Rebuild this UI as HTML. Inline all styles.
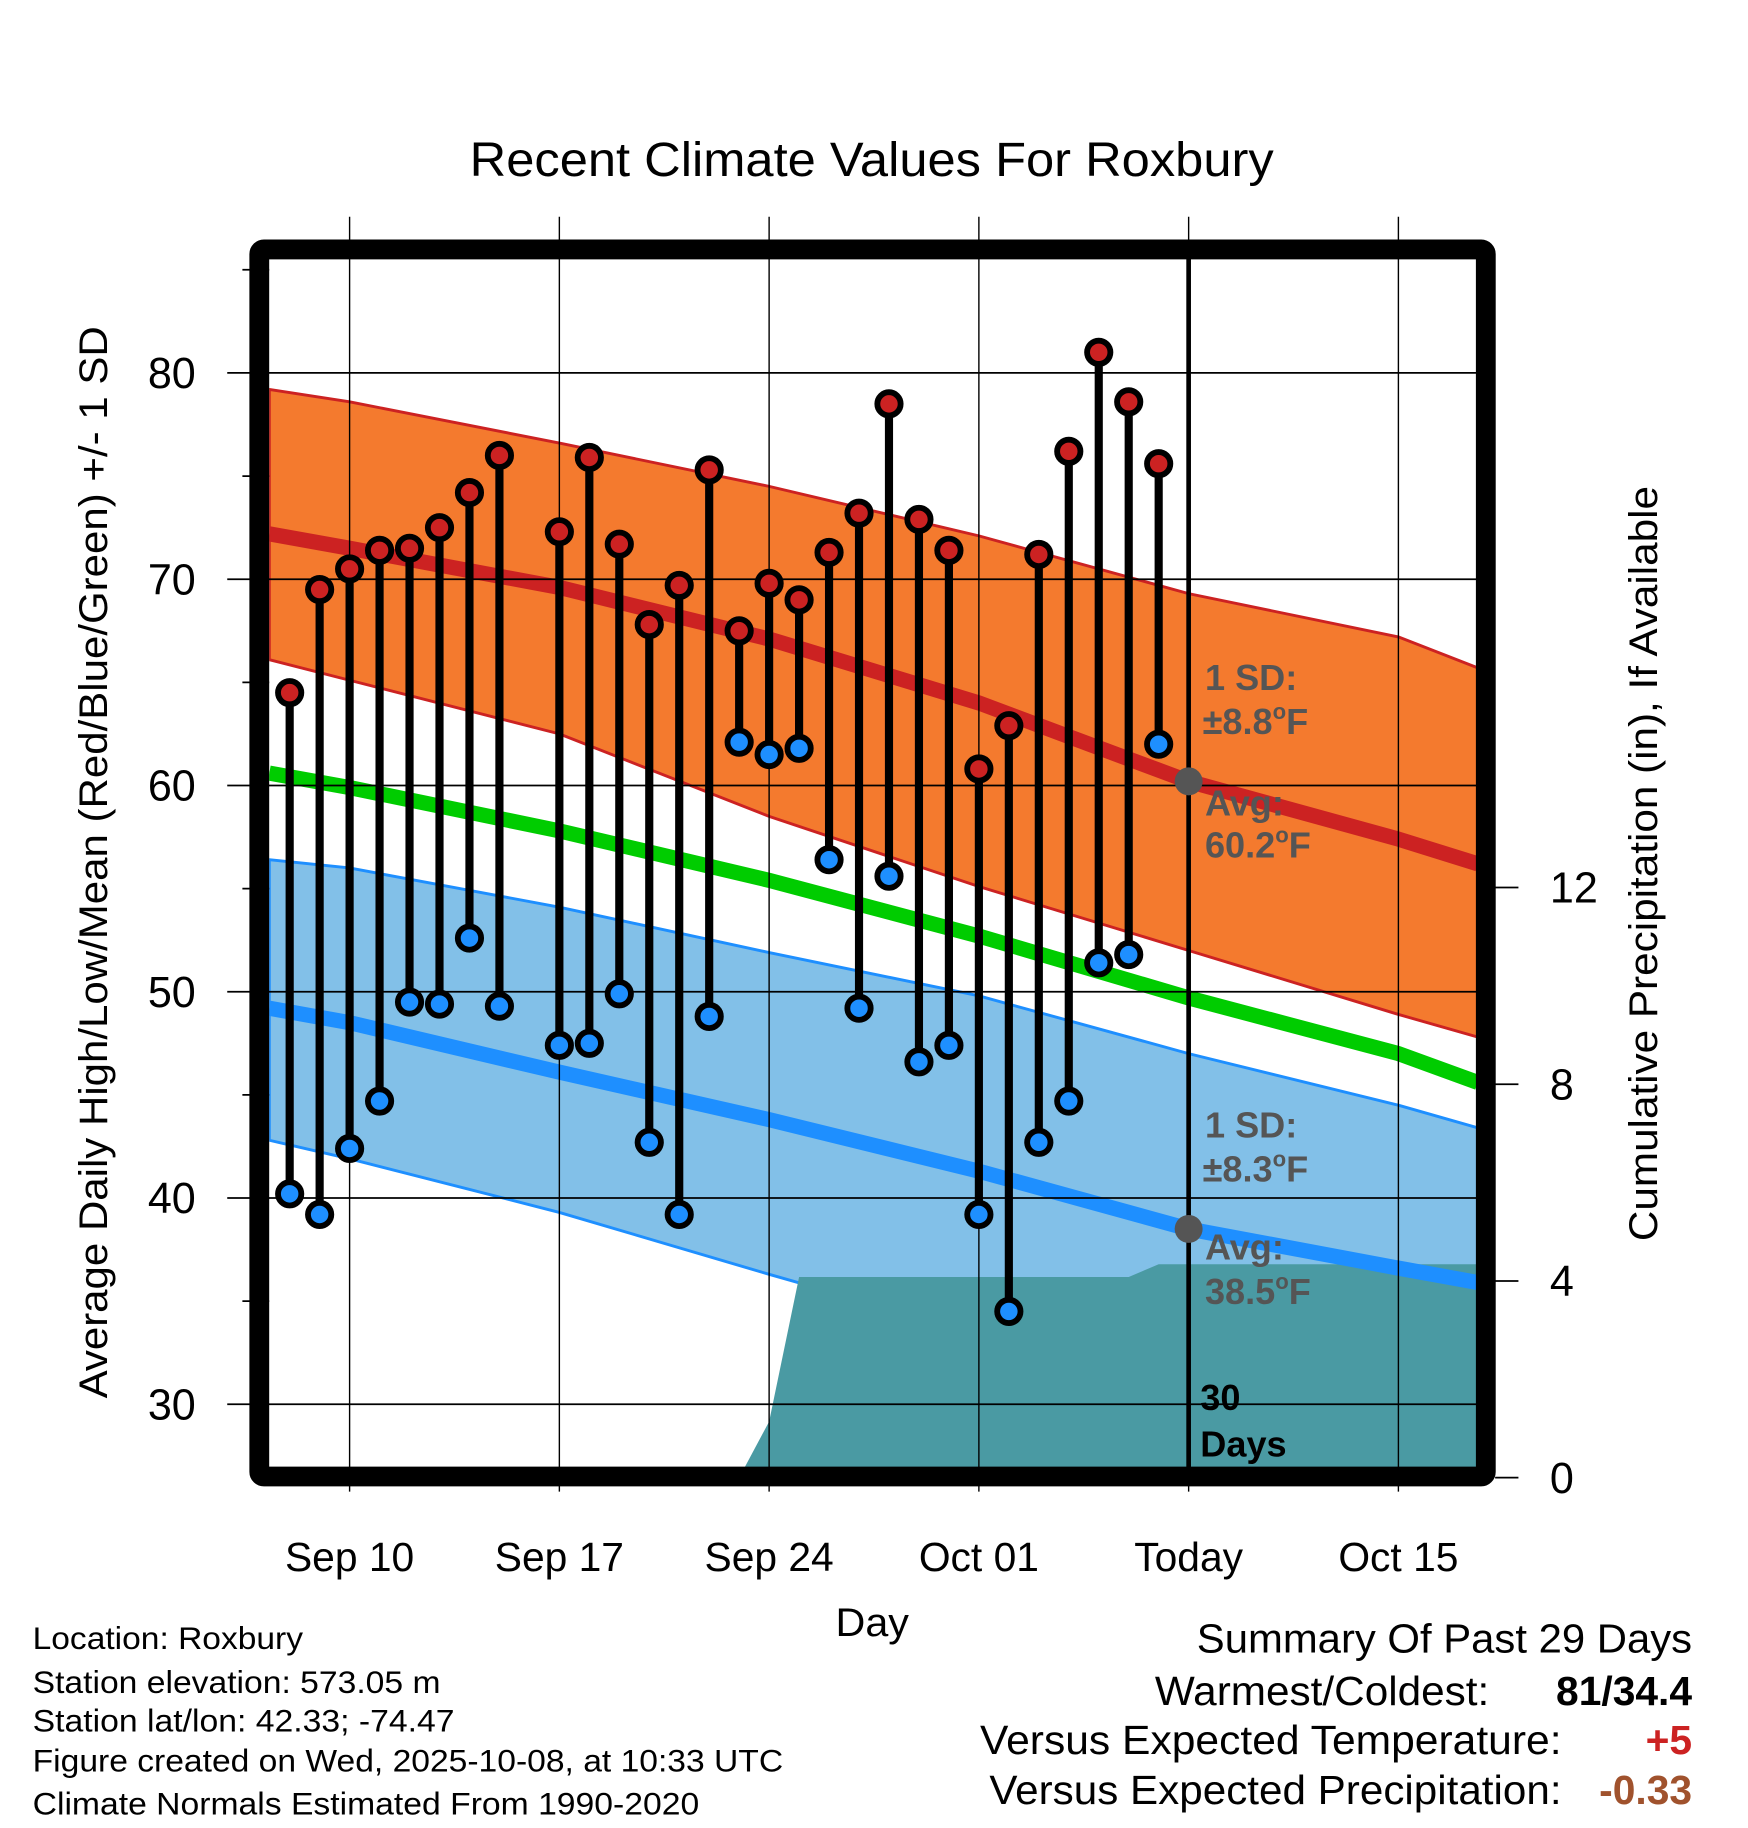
<!DOCTYPE html>
<html><head><meta charset="utf-8"><style>
html,body{margin:0;padding:0;background:#fff;}
svg{display:block;font-family:"Liberation Sans",sans-serif;}
</style></head><body>
<svg id="chart" width="1748" height="1828" viewBox="0 0 1500 1568.6" xmlns="http://www.w3.org/2000/svg">
<text x="403" y="151" font-size="41" textLength="690" lengthAdjust="spacingAndGlyphs">Recent Climate Values For Roxbury</text>
<g id="plot"></g>
<g id="ann">
 <text x="1034" y="592" font-size="31" font-weight="bold" fill="#555">1 SD:</text>
 <text x="1032" y="630" font-size="31" font-weight="bold" fill="#555">±8.8<tspan font-size="19" dy="-13">o</tspan><tspan dy="13">F</tspan></text>
 <text x="1034" y="700" font-size="31" font-weight="bold" fill="#555">Avg:</text>
 <text x="1034" y="736" font-size="31" font-weight="bold" fill="#555">60.2<tspan font-size="19" dy="-13">o</tspan><tspan dy="13">F</tspan></text>
 <text x="1034" y="976" font-size="31" font-weight="bold" fill="#555">1 SD:</text>
 <text x="1032" y="1014" font-size="31" font-weight="bold" fill="#555">±8.3<tspan font-size="19" dy="-13">o</tspan><tspan dy="13">F</tspan></text>
 <text x="1034" y="1081" font-size="31" font-weight="bold" fill="#555">Avg:</text>
 <text x="1034" y="1119" font-size="31" font-weight="bold" fill="#555">38.5<tspan font-size="19" dy="-13">o</tspan><tspan dy="13">F</tspan></text>
 <text x="1030" y="1210" font-size="31" font-weight="bold">30</text>
 <text x="1030" y="1250" font-size="31" font-weight="bold">Days</text>
</g>
<text x="717" y="1404" font-size="34" textLength="63" lengthAdjust="spacingAndGlyphs">Day</text>
<text transform="translate(92,1200) rotate(-90)" font-size="34" textLength="920" lengthAdjust="spacingAndGlyphs">Average Daily High/Low/Mean (Red/Blue/Green) +/- 1 SD</text>
<text transform="translate(1422,1065) rotate(-90)" font-size="34" textLength="648" lengthAdjust="spacingAndGlyphs">Cumulative Precipitation (in), If Available</text>
<g font-size="27">
 <text x="28" y="1415" textLength="232" lengthAdjust="spacingAndGlyphs">Location: Roxbury</text>
 <text x="28" y="1453" textLength="350" lengthAdjust="spacingAndGlyphs">Station elevation: 573.05 m</text>
 <text x="28" y="1486" textLength="362" lengthAdjust="spacingAndGlyphs">Station lat/lon: 42.33; -74.47</text>
 <text x="28" y="1520" textLength="644" lengthAdjust="spacingAndGlyphs">Figure created on Wed, 2025-10-08, at 10:33 UTC</text>
 <text x="28" y="1557" textLength="572" lengthAdjust="spacingAndGlyphs">Climate Normals Estimated From 1990-2020</text>
</g>
<g font-size="35">
 <text x="1027" y="1418" textLength="425" lengthAdjust="spacingAndGlyphs">Summary Of Past 29 Days</text>
 <text x="991" y="1463" textLength="287" lengthAdjust="spacingAndGlyphs">Warmest/Coldest:</text>
 <text x="1452" y="1463" text-anchor="end" font-weight="bold">81/34.4</text>
 <text x="841" y="1505" textLength="499" lengthAdjust="spacingAndGlyphs">Versus Expected Temperature:</text>
 <text x="1452" y="1505" text-anchor="end" font-weight="bold" fill="#cc2222">+5</text>
 <text x="849" y="1548" textLength="491" lengthAdjust="spacingAndGlyphs">Versus Expected Precipitation:</text>
 <text x="1452" y="1548" text-anchor="end" font-weight="bold" fill="#a0522d">-0.33</text>
</g>
</svg>
<script>
// day offsets are days after Sep 10
var obsDays = [-2,-1,0,1,2,3,4,5,7,8,9,10,11,12,13,14,15,16,17,18,19,20,21,22,23,24,25,26,27];
var highs = [64.5,69.5,70.5,71.4,71.5,72.5,74.2,76.0,72.3,75.9,71.7,67.8,69.7,75.3,67.5,69.8,69.0,71.3,73.2,78.5,72.9,71.4,60.8,62.9,71.2,76.2,81.0,78.6,75.6];
var lows = [40.2,39.2,42.4,44.7,49.5,49.4,52.6,49.3,47.4,47.5,49.9,42.7,39.2,48.8,62.1,61.5,61.8,56.4,49.2,55.6,46.6,47.4,39.2,34.5,42.7,44.7,51.4,51.8,62.0];
var normDays = [-2.68,0,7,14,21,28,35,37.65];
var highUpper = [79.2,78.6,76.6,74.5,72.1,69.3,67.2,65.7];
var highMean = [72.2,71.5,69.6,67.1,64.0,60.2,57.4,56.2];
var highLower = [66.1,65.1,62.5,58.5,55.1,52.0,48.9,47.8];
var meanTemp = [60.6,59.9,57.8,55.4,52.7,49.7,47.0,45.6];
var lowUpper = [56.4,56.0,54.1,51.9,49.8,47.0,44.5,43.4];
var lowMean = [49.2,48.5,46.1,43.8,41.3,38.5,36.6,35.9];
var lowLower = [42.8,41.9,39.3,36.3,33.4,30.3,27.7,26.8];
var precipDays = [13,14,15,26,27,37.65];
var precipCum = [0,1.14,4.08,4.08,4.34,4.34];
var xTickDays = [0,7,14,21,28,35];
var xTickLabels = ["Sep 10","Sep 17","Sep 24","Oct 01","Today","Oct 15"];
var yTicks = [30,40,50,60,70,80];
var yMinor = [35,45,55,65,75,85];
var pTicks = [0,4,8,12];

var NS="http://www.w3.org/2000/svg";
var L=231,R=1268,T=222,B=1260;
function X(d){return 300+d*180/7;}
function Y(t){return 320+(80-t)*17.7;}
function P(p){return 1268-p*42.2;}
var g=document.getElementById('plot');
function mk(tag,attrs,parent){var e=document.createElementNS(NS,tag);for(var k in attrs)e.setAttribute(k,attrs[k]);(parent||g).appendChild(e);return e;}
function band(up,lo){var s='';for(var i=0;i<normDays.length;i++)s+=(i?'L':'M')+X(normDays[i])+','+Y(up[i]);for(var j=normDays.length-1;j>=0;j--)s+='L'+X(normDays[j])+','+Y(lo[j]);return s+'Z';}
function line(arr){var s='';for(var i=0;i<normDays.length;i++)s+=(i?'L':'M')+X(normDays[i])+','+Y(arr[i]);return s;}

var clip=mk('clipPath',{id:'pc'});mk('rect',{x:L,y:T,width:R-L,height:B-T},clip);
var inner=mk('g',{'clip-path':'url(#pc)'});



var e;
e=mk('path',{d:band(highUpper,highLower),fill:'#f47a2e',stroke:'#cc2222','stroke-width':2.5},inner);


e=mk('path',{d:band(lowUpper,lowLower),fill:'#82c0e8',stroke:'#1e8fff','stroke-width':2.5},inner);


var ps='M'+X(precipDays[0])+','+P(0);
for(var i=0;i<precipDays.length;i++)ps+='L'+X(precipDays[i])+','+P(precipCum[i]);
ps+='L'+X(precipDays[precipDays.length-1])+','+P(0)+'Z';
e=mk('path',{d:ps,fill:'#4a9aa3'},inner);


e=mk('path',{d:line(highMean),fill:'none',stroke:'#cc2222','stroke-width':13},inner);


e=mk('path',{d:line(meanTemp),fill:'none',stroke:'#00cc00','stroke-width':13},inner);


e=mk('path',{d:line(lowMean),fill:'none',stroke:'#1e8fff','stroke-width':13},inner);



yTicks.forEach(function(t){
 e=mk('line',{x1:195,x2:R,y1:Y(t),y2:Y(t),stroke:'#000','stroke-width':1.5});
 
 
 e=mk('text',{x:168,y:Y(t)+13,'font-size':37,'text-anchor':'end'});
 e.textContent=t;
 
 
});
yMinor.forEach(function(t){
 e=mk('line',{x1:208,x2:L,y1:Y(t),y2:Y(t),stroke:'#000','stroke-width':1.5});
 
 
});
xTickDays.forEach(function(d,i){
 e=mk('line',{x1:X(d),x2:X(d),y1:186,y2:1280,stroke:'#000','stroke-width':1.2});
 
 
 e=mk('text',{x:X(d),y:1348,'font-size':35,'text-anchor':'middle'});
 e.textContent=xTickLabels[i];
 
 
});
pTicks.forEach(function(p){
 e=mk('line',{x1:1283,x2:1303,y1:P(p),y2:P(p),stroke:'#000','stroke-width':1.5});
 
 
 e=mk('text',{x:1330,y:P(p)+13,'font-size':37});
 e.textContent=p;
 
 
});

e=mk('line',{x1:X(28),x2:X(28),y1:T,y2:B,stroke:'#000','stroke-width':4});


e=mk('circle',{cx:X(28),cy:Y(highMean[5]),r:12,fill:'#555'});


e=mk('circle',{cx:X(28),cy:Y(lowMean[5]),r:12,fill:'#555'});



obsDays.forEach(function(d,i){
 var x=X(d);
 e=mk('line',{x1:x,x2:x,y1:Y(highs[i]),y2:Y(lows[i]),stroke:'#000','stroke-width':7});
 
 
 e=mk('circle',{cx:x,cy:Y(highs[i]),r:10,fill:'#cc2222',stroke:'#000','stroke-width':5});
 
 
 e=mk('circle',{cx:x,cy:Y(lows[i]),r:10,fill:'#1e8fff',stroke:'#000','stroke-width':5});
 
 
});

e=mk('rect',{x:222.5,y:214,width:1052.5,height:1053,fill:'none',stroke:'#000','stroke-width':17,rx:4});


</script>
</body></html>
